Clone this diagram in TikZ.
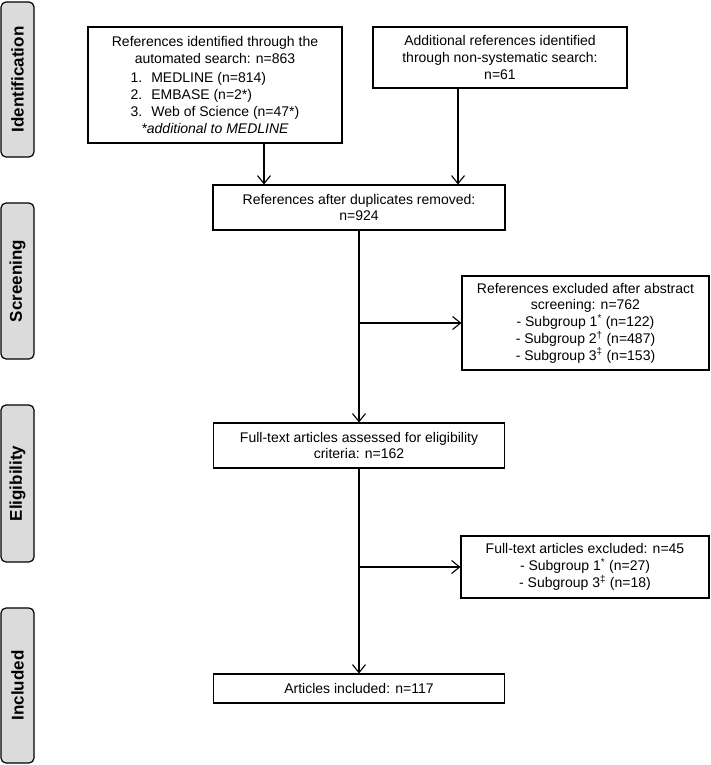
\documentclass[tikz,border=0pt]{standalone}
\usepackage{fontspec}
\setmainfont{Liberation Sans}
\usetikzlibrary{arrows.meta}

\begin{document}
\begin{tikzpicture}[x=1pt, y=-1pt,
    stage/.style={draw, line width=1.2pt, rounded corners=5pt, fill=gray!28, rotate=90,
        minimum height=33pt, inner sep=0pt, font=\fontsize{17}{20}\selectfont\bfseries},
    box/.style={draw, line width=1.1pt, fill=white, inner sep=0pt, align=center,
        font=\fontsize{14}{16.7}\selectfont},
    arr/.style={line width=1.1pt, -{Straight Barb[length=8pt,width=13pt]}}]
    \useasboundingbox (0, 0) rectangle (710, 765);

    % stages down the left side
    \node[stage, minimum width=155pt] (ident) at (17.5, 79.5) {Identification};
    \node[stage, minimum width=156pt] (screen) at (17.5, 281) {Screening};
    \node[stage, minimum width=157pt] (elig) at (17.5, 483.5) {Eligibility};
    \node[stage, minimum width=155pt] (incl) at (17.5, 685.5) {Included};

    % flow boxes
    \node[box, minimum width=254pt, minimum height=116pt] (auto) at (215, 85)
        {References identified through the\\automated search: n=863\\[6pt]
         \begin{tabular}{@{}r@{\hspace{9pt}}l@{}}
         1.&MEDLINE (n=814)\\[0.5pt]
         2.&EMBASE (n=2*)\\[0.5pt]
         3.&Web of Science (n=47*)
         \end{tabular}\\
         \itshape *additional to MEDLINE};
    \node[box, minimum width=254pt, minimum height=61pt] (extra) at (500, 57.5)
        {Additional references identified\\through non-systematic search:\\n=61};
    \node[box, minimum width=292pt, minimum height=45pt] (dedup) at (359, 207.5)
        {References after duplicates removed:\\n=924};
    \node[box, minimum width=247pt, minimum height=94pt] (absexcl) at (585.5, 323)
        {References excluded after abstract\\screening: n=762\\
         - Subgroup 1\textsuperscript{*} (n=122)\\
         - Subgroup 2\textsuperscript{†} (n=487)\\
         - Subgroup 3\textsuperscript{‡} (n=153)};
    \node[box, minimum width=291pt, minimum height=45pt] (fulltext) at (359, 445.5)
        {Full-text articles assessed for eligibility\\criteria: n=162};
    \node[box, minimum width=248pt, minimum height=62pt] (ftexcl) at (585, 567)
        {Full-text articles excluded: n=45\\
         - Subgroup 1\textsuperscript{*} (n=27)\\
         - Subgroup 3\textsuperscript{‡} (n=18)};
    \node[box, minimum width=291pt, minimum height=29pt] (included) at (359, 688.5)
        {Articles included: n=117};

    % connectors
    \draw[arr] ([xshift=49pt]auto.south) -- ([xshift=49pt]auto.south |- dedup.north);
    \draw[arr] ([xshift=-42pt]extra.south) -- ([xshift=-42pt]extra.south |- dedup.north);
    \draw[arr] (dedup.south) -- (fulltext.north);
    \draw[arr] (dedup.south |- absexcl.west) -- (absexcl.west);
    \draw[arr] (fulltext.south) -- (included.north);
    \draw[arr] (fulltext.south |- ftexcl.west) -- (ftexcl.west);
\end{tikzpicture}
\end{document}
